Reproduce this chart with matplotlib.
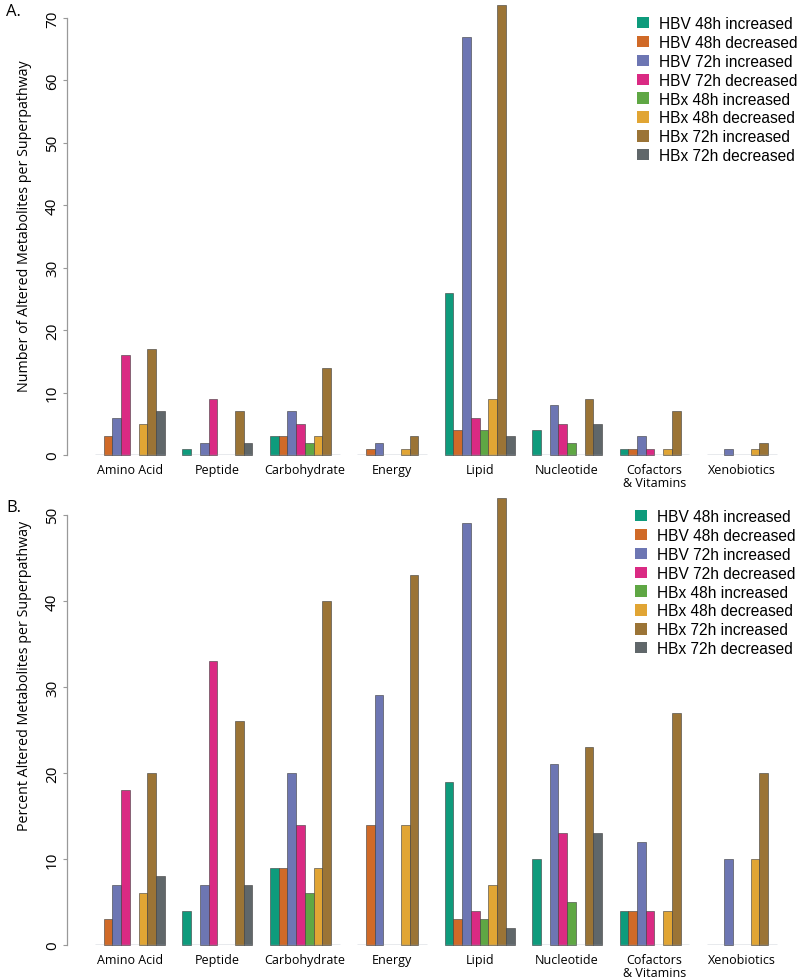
import matplotlib
matplotlib.use("Agg")
import matplotlib.pyplot as plt
import numpy as np

plt.rcParams['font.family'] = ['Open Sans', 'DejaVu Sans']

categories = ["Amino Acid", "Peptide", "Carbohydrate", "Energy", "Lipid",
              "Nucleotide", "Cofactors\n& Vitamins", "Xenobiotics"]
series = ["HBV 48h increased", "HBV 48h decreased", "HBV 72h increased",
          "HBV 72h decreased", "HBx 48h increased", "HBx 48h decreased",
          "HBx 72h increased", "HBx 72h decreased"]
colors = ["#0E9B7C", "#D06A28", "#6D76B3", "#DA2A83",
          "#5FA744", "#E1A534", "#9B7436", "#60676A"]

# rows = categories, columns = series
counts = np.array([
    [0, 3, 6, 16, 0, 5, 17, 7],
    [1, 0, 2, 9, 0, 0, 7, 2],
    [3, 3, 7, 5, 2, 3, 14, 0],
    [0, 1, 2, 0, 0, 1, 3, 0],
    [26, 4, 67, 6, 4, 9, 72, 3],
    [4, 0, 8, 5, 2, 0, 9, 5],
    [1, 1, 3, 1, 0, 1, 7, 0],
    [0, 0, 1, 0, 0, 1, 2, 0],
])
percents = np.array([
    [0, 3, 7, 18, 0, 6, 20, 8],
    [4, 0, 7, 33, 0, 0, 26, 7],
    [9, 9, 20, 14, 6, 9, 40, 0],
    [0, 14, 29, 0, 0, 14, 43, 0],
    [19, 3, 49, 4, 3, 7, 52, 2],
    [10, 0, 21, 13, 5, 0, 23, 13],
    [4, 4, 12, 4, 0, 4, 27, 0],
    [0, 0, 10, 0, 0, 10, 20, 0],
])

W, H = 800, 978
fig = plt.figure(figsize=(W / 100, H / 100), dpi=100)


def px_axes(left, top, right, bottom):
    return fig.add_axes([left / W, 1 - bottom / H, (right - left) / W, (bottom - top) / H])


def draw_panel(ax, data, ymax, ytop, ylabel, label_y, legend_xy):
    n_series = data.shape[1]
    stride = n_series + 2
    ax.patch.set_visible(False)
    for g in range(data.shape[0]):
        x0 = g * stride
        xs = x0 + np.arange(n_series) + 0.5
        for s in range(n_series):
            if data[g, s] > 0:
                ax.bar(xs[s], data[g, s], width=1.0, color=colors[s],
                       edgecolor="#3c3c3c", linewidth=0.4, clip_on=False,
                       label=series[s] if g == 4 else None)
        ax.plot([x0, x0 + n_series], [0, 0], color="#8a97a8", lw=1.0,
                solid_capstyle="butt")
        ax.annotate(categories[g], (x0 + n_series / 2, 0), xytext=(0, -6),
                    textcoords="offset points", ha="center", va="top",
                    fontsize=9, linespacing=0.95, annotation_clip=False)
    ax.set_xlim(-3.2, 79.5)
    ax.set_ylim(0, ytop)
    for side in ["top", "right", "bottom"]:
        ax.spines[side].set_visible(False)
    ax.spines["left"].set_bounds(0, ymax)
    ax.spines["left"].set_color("#999999")
    ax.spines["left"].set_linewidth(0.9)
    ax.set_xticks([])
    ax.set_yticks(np.arange(0, ymax + 1, 10))
    ax.tick_params(axis="y", length=3, width=0.8, color="#999999",
                   labelsize=11, pad=2, labelrotation=90)
    for t in ax.get_yticklabels():
        t.set_va("center")
    fig.text(25 / W, 1 - label_y / H, ylabel, rotation=90, ha="center",
             va="center", fontsize=10.3)
    handles, labels = ax.get_legend_handles_labels()
    order = [labels.index(s) for s in series]
    leg = ax.legend([handles[i] for i in order], [labels[i] for i in order],
                    loc="upper left", bbox_to_anchor=legend_xy,
                    bbox_transform=fig.transFigure, frameon=False,
                    prop={"family": "Liberation Sans", "size": 11.2},
                    handlelength=0.75, handleheight=0.75, handletextpad=0.65,
                    labelspacing=0.25, borderpad=0, borderaxespad=0)
    for h in leg.legend_handles:
        h.set_linewidth(0)


axA = px_axes(67, 3, 790, 456)
draw_panel(axA, counts, 70, 72.56,
           "Number of Altered Metabolites per Superpathway", 226,
           (637 / W, 1 - 17 / H))
axB = px_axes(67, 490, 790, 946)
draw_panel(axB, percents, 50, 53.0,
           "Percent Altered Metabolites per Superpathway", 676,
           (635 / W, 1 - 510 / H))

fig.text(6 / W, 1 - 12 / H, "A.", fontsize=12, va="center", ha="left")
fig.text(6 / W, 1 - 508 / H, "B.", fontsize=12, va="center", ha="left")

fig.savefig("out.png", dpi=100)
